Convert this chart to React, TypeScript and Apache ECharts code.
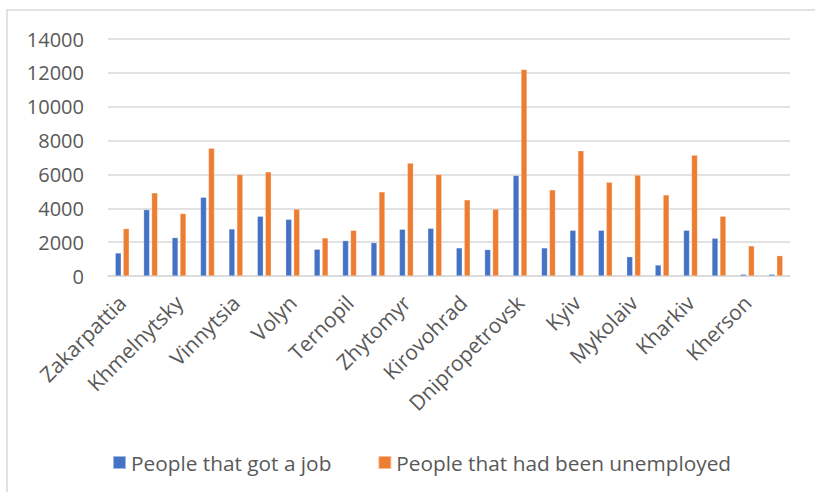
import React, { useEffect, useRef } from "react";
import * as echarts from "echarts";

const categories = [
  "Zakarpattia", "Ivano-Frankivsk", "Khmelnytsky", "Chernivtsi", "Vinnytsia", "Rivne",
  "Volyn", "Lviv", "Ternopil", "Cherkasy", "Zhytomyr", "Poltava",
  "Kirovohrad", "Sumy", "Dnipropetrovsk", "Chernihiv", "Kyiv", "Zaporizhzhia",
  "Mykolaiv", "Odesa", "Kharkiv", "Donetsk", "Kherson", "Luhansk",
];
const gotJob = [
  1360, 3920, 2270, 4650, 2780, 3530, 3350, 1580, 2090, 1970, 2760, 2820,
  1660, 1560, 5940, 1660, 2700, 2700, 1140, 650, 2700, 2230, 100, 100,
];
const unemployed = [
  2800, 4910, 3690, 7550, 6000, 6150, 3950, 2250, 2700, 4970, 6670, 6000,
  4500, 3950, 12200, 5090, 7400, 5540, 5960, 4790, 7140, 3530, 1780, 1200,
];
const yTicks = { min: 0, max: 14000, interval: 2000 };

export default function App() {
  const ref = useRef<HTMLDivElement>(null);
  useEffect(() => {
    if (!ref.current) return;
    const chart = echarts.init(ref.current, null, { renderer: "svg" });
    const font = "'Open Sans', sans-serif";
    chart.setOption({
      animation: false,
      backgroundColor: "#ffffff",
      textStyle: { fontFamily: font },
      grid: { left: 108, right: 25, top: 39, bottom: 216, containLabel: false },
      graphic: [
        {
          type: "rect",
          shape: { x: 7, y: 10, width: 900, height: 600 },
          style: { fill: "none", stroke: "#d9d9d9", lineWidth: 1.5 },
          silent: true,
        },
      ],
      legend: {
        left: 107,
        top: 447,
        itemWidth: 13,
        itemHeight: 13,
        itemGap: 46,
        icon: "rect",
        textStyle: { fontFamily: font, fontSize: 20.8, color: "#595959" },
        data: ["People that got a job", "People that had been unemployed"],
      },
      xAxis: {
        type: "category",
        data: categories,
        axisLine: { show: true, lineStyle: { color: "#d9d9d9", width: 1.5 } },
        axisTick: { show: false },
        axisLabel: {
          interval: 1,
          rotate: 45,
          margin: 23,
          fontFamily: font,
          fontSize: 21,
          color: "#595959",
        },
      },
      yAxis: {
        type: "value",
        min: yTicks.min,
        max: yTicks.max,
        interval: yTicks.interval,
        axisLine: { show: false },
        axisTick: { show: false },
        splitLine: { lineStyle: { color: "#d9d9d9", width: 1.5 } },
        axisLabel: {
          margin: 24,
          fontFamily: font,
          fontSize: 20,
          color: "#595959",
          formatter: (v: number) => String(v),
        },
      },
      series: [
        {
          name: "People that got a job",
          type: "bar",
          data: gotJob,
          barWidth: 6,
          barGap: "33%",
          itemStyle: { color: "#4472C4", borderColor: "rgba(255,255,255,0.5)", borderWidth: 0.5 },
        },
        {
          name: "People that had been unemployed",
          type: "bar",
          data: unemployed,
          barWidth: 6,
          barGap: "33%",
          itemStyle: { color: "#ED7D31", borderColor: "rgba(255,255,255,0.5)", borderWidth: 0.5 },
        },
      ],
    });
    return () => chart.dispose();
  }, []);
  return (
    <div
      ref={ref}
      style={{ position: "fixed", left: 0, top: 0, width: 815, height: 492, background: "#fff" }}
    />
  );
}
